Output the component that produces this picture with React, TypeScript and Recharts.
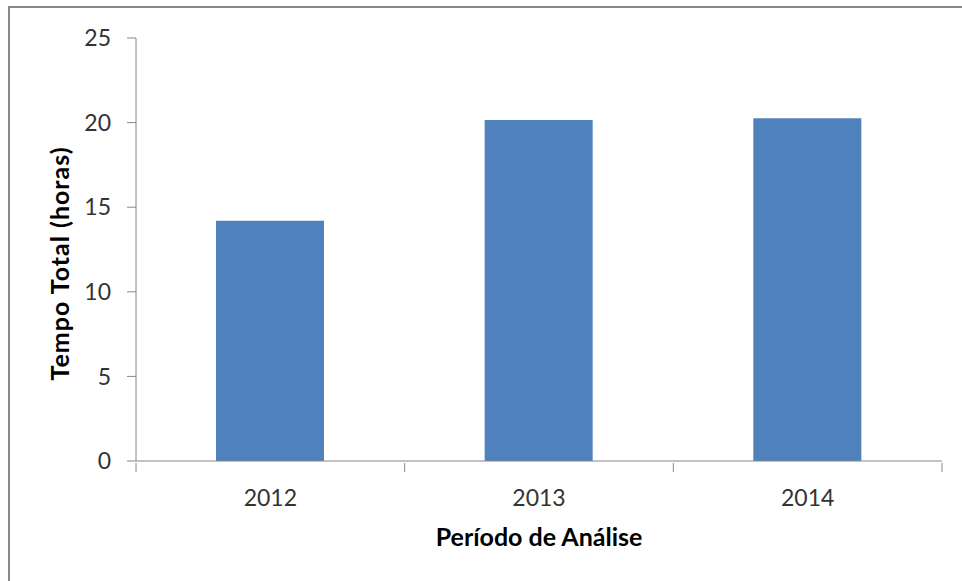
import { BarChart, Bar, XAxis, YAxis } from "recharts";

const years = ["2012", "2013", "2014"];
const totalHours = [14.2, 20.15, 20.25];
const yTicks = [0, 5, 10, 15, 20, 25];

const data = years.map((year, i) => ({ year, hours: totalHours[i] }));

const WIDTH = 962;
const HEIGHT = 581;
const MARGIN = { top: 38, right: 20, bottom: 30, left: 0 };
const Y_WIDTH = 136;
const AXIS_COLOR = "#868686";
const FONT = "Lato, 'Open Sans', sans-serif";
const BAND = (WIDTH - MARGIN.left - MARGIN.right - Y_WIDTH) / years.length;

function CategoryTick(props: any) {
  const { x, y, payload, index } = props;
  const left = x - BAND / 2;
  const axisY = y - 28;
  return (
    <g>
      <line x1={left} y1={axisY} x2={left} y2={axisY + 9} stroke={AXIS_COLOR} />
      {index === years.length - 1 && (
        <line x1={left + BAND} y1={axisY} x2={left + BAND} y2={axisY + 9} stroke={AXIS_COLOR} />
      )}
      <text x={x} y={axisY + 43} textAnchor="middle" fontSize={23} fill="#333" fontFamily={FONT}>
        {payload.value}
      </text>
    </g>
  );
}

export default function App() {
  return (
    <div style={{ position: "fixed", left: 0, top: 0, width: WIDTH, height: HEIGHT, background: "#fff", overflow: "hidden" }}>
      <div
        style={{
          position: "absolute",
          left: 8,
          top: 6,
          width: WIDTH + 20,
          height: HEIGHT + 20,
          border: "2px solid #888",
          boxSizing: "border-box",
        }}
      />
      <div style={{ position: "absolute", left: 0, top: 0 }}>
        <BarChart width={WIDTH} height={HEIGHT} data={data} margin={MARGIN}>
          <XAxis
            dataKey="year"
            height={90}
            stroke={AXIS_COLOR}
            tickLine={false}
            tickSize={28}
            tick={<CategoryTick />}
            interval={0}
            label={{
              value: "Período de Análise",
              position: "insideTop",
              offset: 67,
              fontSize: 25,
              fontWeight: "bold",
              fill: "#000",
              fontFamily: FONT,
            }}
          />
          <YAxis
            width={Y_WIDTH}
            domain={[0, 25]}
            ticks={yTicks}
            interval={0}
            stroke={AXIS_COLOR}
            tickSize={9}
            tickMargin={16}
            tick={{ fontSize: 23, fill: "#333", fontFamily: FONT }}
            label={{
              value: "Tempo Total (horas)",
              angle: -90,
              position: "center",
              dx: -8,
              dy: 14,
              fontSize: 25,
              letterSpacing: 1,
              fontWeight: "bold",
              fill: "#000",
              fontFamily: FONT,
            }}
          />
          <Bar dataKey="hours" fill="#4F81BD" barSize={108} isAnimationActive={false} />
        </BarChart>
      </div>
    </div>
  );
}
